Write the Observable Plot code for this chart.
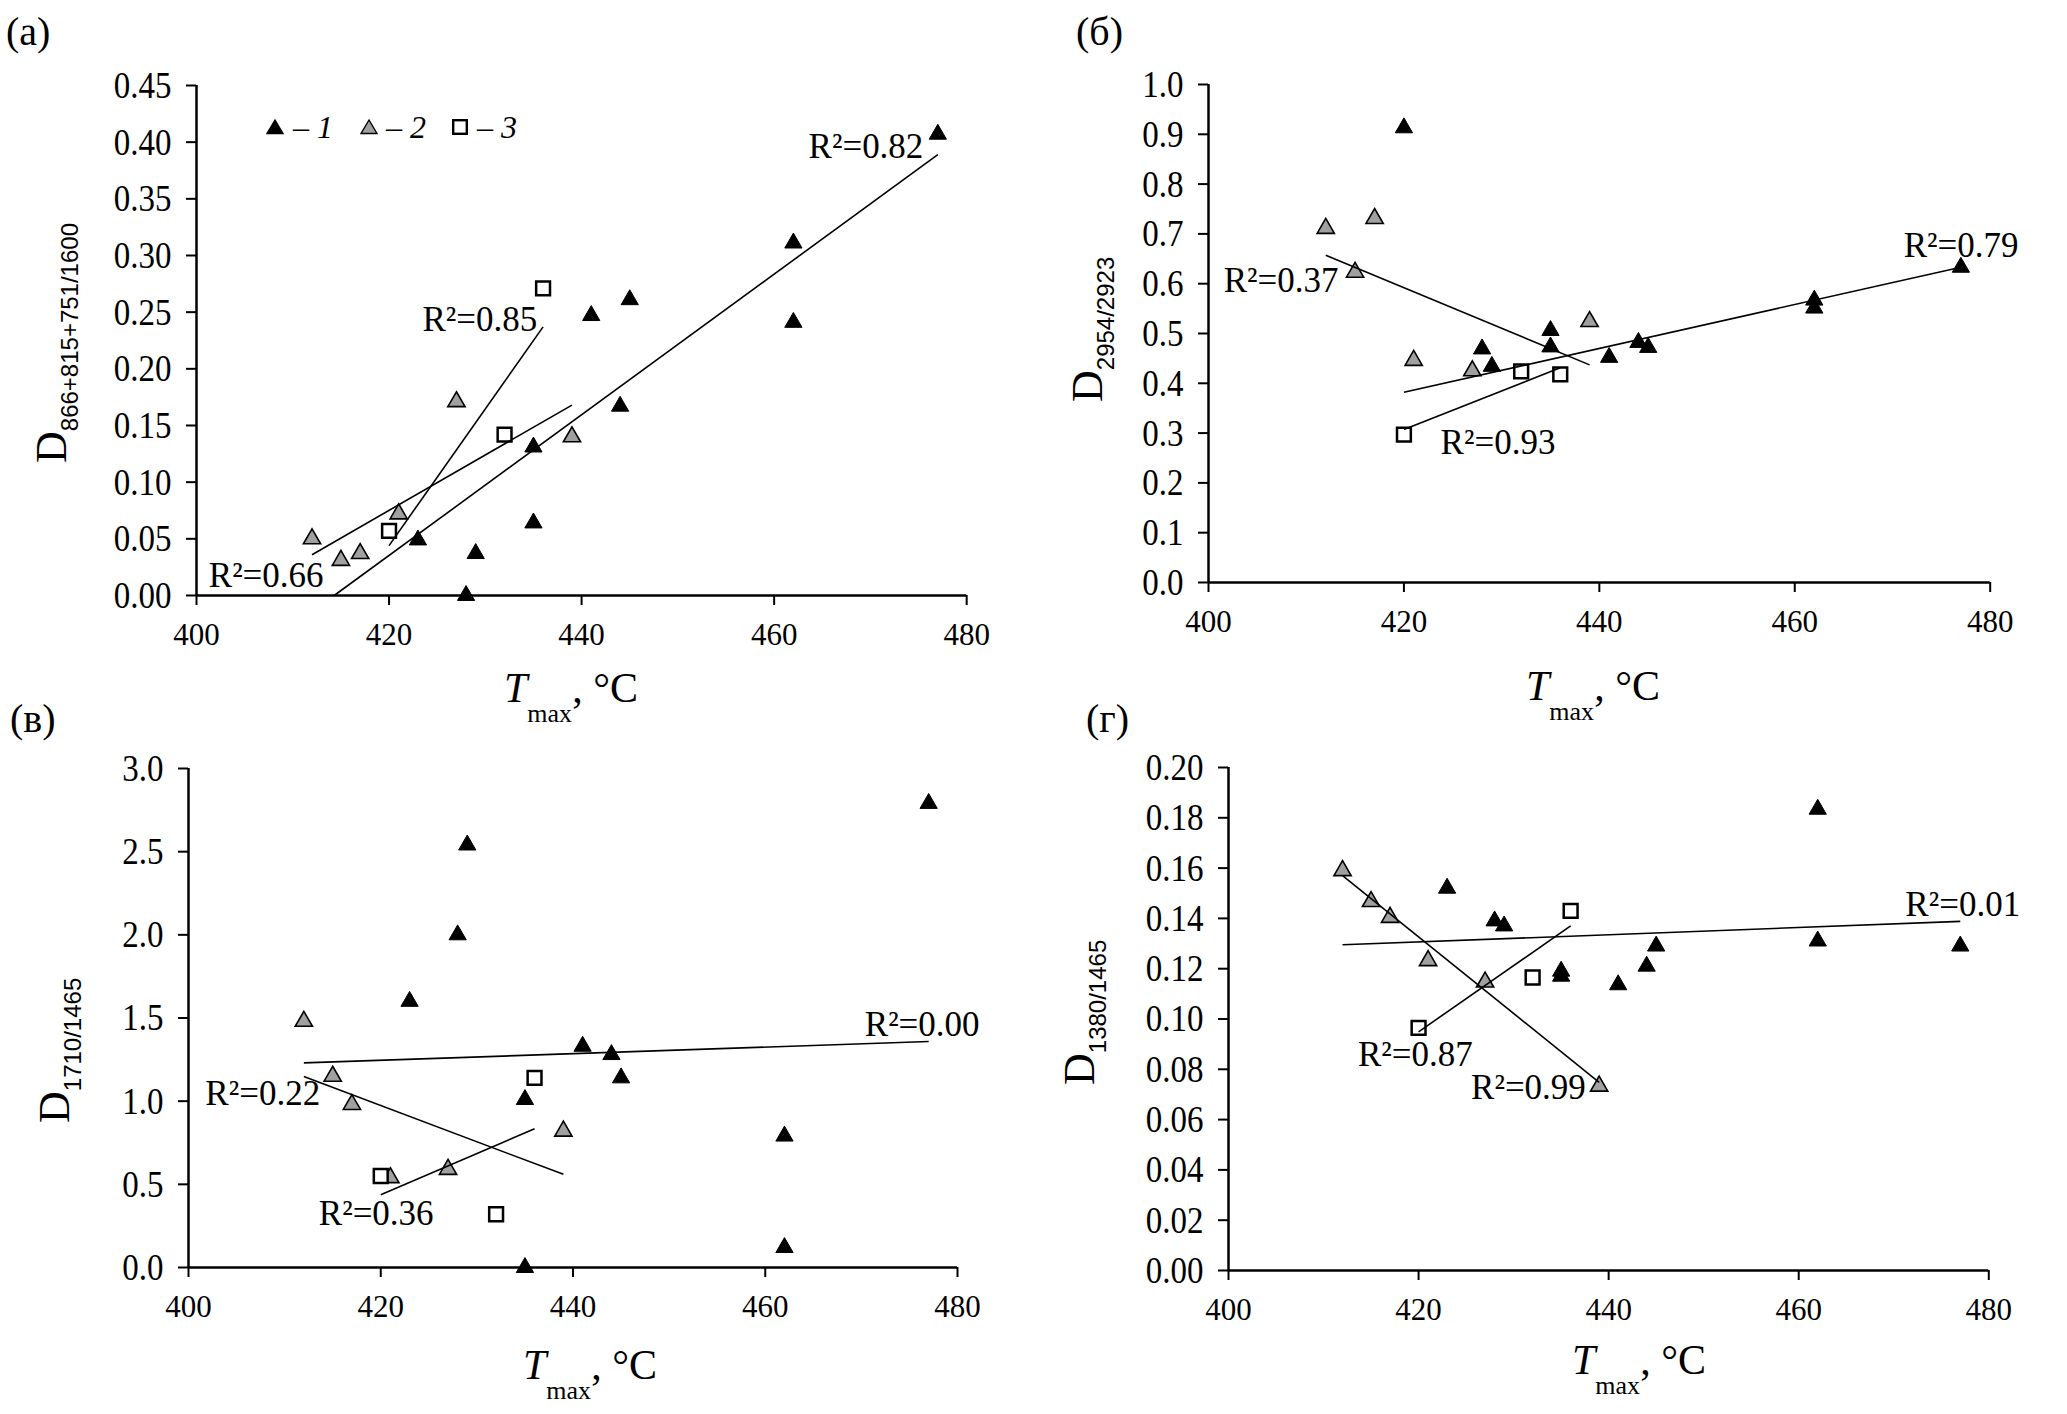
<!DOCTYPE html>
<html><head><meta charset="utf-8">
<script src="https://cdn.jsdelivr.net/npm/d3@7"></script>
<script src="https://cdn.jsdelivr.net/npm/@observablehq/plot@0.6"></script>
<style>
html,body{margin:0;padding:0;background:#fff;}
#root{position:relative;width:2067px;height:1414px;overflow:hidden;font-family:"Liberation Serif",serif;color:#000;}
#root svg text{font-family:"Liberation Serif",serif !important;}
.ov{position:absolute;white-space:nowrap;line-height:1;}
.ov svg{display:block;}
.plabel{font-size:40px;}
.xt{font-size:42px;}
.xt .s{font-size:26px;position:relative;top:20px;}
.yt{transform:rotate(-90deg);transform-origin:0 0;font-size:44px;}
.yt .s{font-family:"Liberation Sans",sans-serif;font-size:24px;position:relative;top:12px;}
.legend{font-size:32px;}
</style></head><body><div id="root"></div>
<script>
// ---------- data ----------
const xTicks = [400, 420, 440, 460, 480];

// panel (а)
const aYTicks = [0, 0.05, 0.10, 0.15, 0.20, 0.25, 0.30, 0.35, 0.40, 0.45];
const aSeries1 = [[477,0.407],[462,0.311],[462,0.241],[445,0.261],[441,0.247],[444,0.167],[435,0.131],[435,0.064],[423,0.049],[429,0.037],[428,0.0]];
const aSeries2 = [[412,0.050],[415,0.031],[417,0.037],[421,0.072],[427,0.171],[439,0.140]];
const aSeries3 = [[420,0.057],[432,0.142],[436,0.271]];
const aTrends = [[414.3,0.0,477,0.389],[412,0.036,439,0.168],[420,0.044,436,0.237]];
const aLabels = [[475.5,0.396,"R²=0.82"],[435.4,0.243,"R²=0.85"],[413.2,0.017,"R²=0.66"]];

// panel (б)
const bYTicks = [0, 0.1, 0.2, 0.3, 0.4, 0.5, 0.6, 0.7, 0.8, 0.9, 1.0];
const bSeries1 = [[420,0.913],[428,0.469],[429,0.434],[435,0.506],[435,0.473],[441,0.452],[444,0.482],[445,0.472],[462,0.567],[462,0.551],[477,0.633]];
const bSeries2 = [[412,0.711],[415,0.623],[417,0.731],[421,0.446],[427,0.425],[439,0.524]];
const bSeries3 = [[420,0.297],[432,0.424],[436,0.418]];
const bTrends = [[420,0.382,477,0.633],[412,0.657,439,0.437],[420,0.307,436,0.431]];
const bLabels = [[482.9,0.677,"R²=0.79"],[413.3,0.605,"R²=0.37"],[435.5,0.280,"R²=0.93"]];

// panel (в)
const cYTicks = [0, 0.5, 1.0, 1.5, 2.0, 2.5, 3.0];
const cSeries1 = [[477,2.79],[429,2.54],[428,2.00],[423,1.60],[441,1.33],[444,1.28],[445,1.14],[435,1.01],[462,0.79],[462,0.12],[435,0.0]];
const cSeries2 = [[412,1.48],[415,1.15],[417,0.98],[421,0.54],[427,0.59],[439,0.82]];
const cSeries3 = [[420,0.55],[436,1.14],[432,0.32]];
const cTrends = [[412,1.23,477,1.359],[412,1.148,439,0.56],[420,0.438,436,0.834]];
const cLabels = [[482.3,1.458,"R²=0.00"],[413.7,1.047,"R²=0.22"],[425.5,0.32,"R²=0.36"]];

// panel (г)
const dYTicks = [0, 0.02, 0.04, 0.06, 0.08, 0.10, 0.12, 0.14, 0.16, 0.18, 0.20];
const dSeries1 = [[462,0.1834],[423,0.152],[428,0.139],[429,0.137],[462,0.131],[477,0.129],[445,0.129],[444,0.121],[435,0.119],[435,0.117],[441,0.1136]];
const dSeries2 = [[412,0.159],[415,0.1467],[417,0.1404],[421,0.1232],[427,0.1147],[439,0.0733]];
const dSeries3 = [[420,0.0965],[432,0.1165],[436,0.143]];
const dTrends = [[412,0.1295,477,0.1388],[412,0.157,439,0.0748],[420,0.0949,436,0.137]];
const dLabels = [[483.3,0.1453,"R²=0.01"],[425.7,0.0856,"R²=0.87"],[437.6,0.0726,"R²=0.99"]];

// ---------- layout ----------
const panels = [
  {frame:[195.5,965.7,85,595], ymax:0.45, fmt:".2f", yTicks:aYTicks, s1:aSeries1, s2:aSeries2, s3:aSeries3, trends:aTrends, labels:aLabels},
  {frame:[1208.3,1990,84,582], ymax:1.0, fmt:".1f", yTicks:bYTicks, s1:bSeries1, s2:bSeries2, s3:bSeries3, trends:bTrends, labels:bLabels},
  {frame:[188,957,768,1267], ymax:3.0, fmt:".1f", yTicks:cYTicks, s1:cSeries1, s2:cSeries2, s3:cSeries3, trends:cTrends, labels:cLabels},
  {frame:[1227.7,1988,767,1270], ymax:0.20, fmt:".2f", yTicks:dYTicks, s1:dSeries1, s2:dSeries2, s3:dSeries3, trends:dTrends, labels:dLabels}
];

const root = document.getElementById("root");
const mL = 120, mR = 60, mT = 20, mB = 70;
const px = d => d[0], py = d => d[1];

for (const p of panels) {
  const w = p.frame[1] - p.frame[0] + mL + mR;
  const h = p.frame[3] - p.frame[2] + mT + mB;
  const chart = Plot.plot({
    width: w, height: h,
    marginLeft: mL, marginRight: mR, marginTop: mT, marginBottom: mB,
    style: {fontFamily: "'Liberation Serif', serif", fontSize: "32px", color: "#000", background: "transparent", overflow: "visible"},
    x: {domain: [400, 480]},
    y: {domain: [0, p.ymax]},
    marks: [
      Plot.axisX({ticks: xTicks, tickSize: 10, tickPadding: 17, strokeWidth: 2, fontSize: 31, label: null, tickFormat: d => String(d)}),
      Plot.axisY({ticks: p.yTicks, tickSize: 10, tickPadding: 15, strokeWidth: 2, fontSize: 33, label: null, tickFormat: d3.format(p.fmt)}),
      Plot.ruleX([400], {stroke: "#000", strokeWidth: 2.5}),
      Plot.ruleY([0], {stroke: "#000", strokeWidth: 2.5}),
      Plot.dot(p.s1, {x: px, y: py, symbol: "triangle", r: 6.4, fill: "#000", stroke: "#000", strokeWidth: 1}),
      Plot.dot(p.s2, {x: px, y: py, symbol: "triangle", r: 6.4, fill: "#a0a0a0", stroke: "#000", strokeWidth: 1.6}),
      Plot.dot(p.s3, {x: px, y: py, symbol: "square", r: 7.8, fill: "#fff", stroke: "#000", strokeWidth: 2.5}),
      Plot.link(p.trends, {x1: d => d[0], y1: d => d[1], x2: d => d[2], y2: d => d[3], stroke: "#000", strokeWidth: 1.6}),
      Plot.text(p.labels, {x: px, y: py, text: d => d[2], textAnchor: "end", fontSize: 35, fill: "#000"})
    ]
  });
  // the reference's y tick labels are drawn slightly taller than wide
  chart.querySelectorAll('g[aria-label="y-axis tick label"] text').forEach(t => {
    const tr = t.getAttribute("transform");
    if (tr && tr.includes("translate")) t.setAttribute("transform", tr + " scale(1,1.18)");
  });
  chart.style.position = "absolute";
  chart.style.left = (p.frame[0] - mL) + "px";
  chart.style.top = (p.frame[2] - mT) + "px";
  root.appendChild(chart);
}

// ---------- text overlays ----------
function ov(cls, html, left, top) {
  const d = document.createElement("div");
  d.className = "ov " + cls;
  d.innerHTML = html;
  d.style.left = left + "px";
  d.style.top = top + "px";
  root.appendChild(d);
}
// panel letters
ov("plabel", "(а)", 6, 12);
ov("plabel", "(б)", 1076, 12);
ov("plabel", "(в)", 10, 699);
ov("plabel", "(г)", 1086, 699);
// x titles
const xt = '<i>T</i><span class="s">max</span>, °C';
ov("xt", xt, 504, 667);
ov("xt", xt, 1526, 665);
ov("xt", xt, 523, 1344);
ov("xt", xt, 1572, 1339);
// y titles
ov("yt", 'D<span class="s">866+815+751/1600</span>', 30, 463);
ov("yt", 'D<span class="s">2954/2923</span>', 1066, 402);
ov("yt", 'D<span class="s">1710/1465</span>', 33, 1123);
ov("yt", 'D<span class="s">1380/1465</span>', 1058, 1085);
// legend (panel а)
const tri = (fill) => `<svg width="16" height="14" style="overflow:visible"><path d="M8,0L16,13.5L0,13.5Z" fill="${fill}" stroke="#000" stroke-width="1.4"/></svg>`;
const sq = `<svg width="16" height="16" style="overflow:visible"><rect x="1.2" y="1.2" width="13.6" height="13.6" fill="#fff" stroke="#000" stroke-width="2.4"/></svg>`;
ov("legend", tri("#000"), 267, 120);
ov("legend", "– <i>1</i>", 293, 111);
ov("legend", tri("#a0a0a0"), 361, 120);
ov("legend", "– <i>2</i>", 386, 111);
ov("legend", sq, 452, 119);
ov("legend", "– <i>3</i>", 477, 111);
</script></body></html>
